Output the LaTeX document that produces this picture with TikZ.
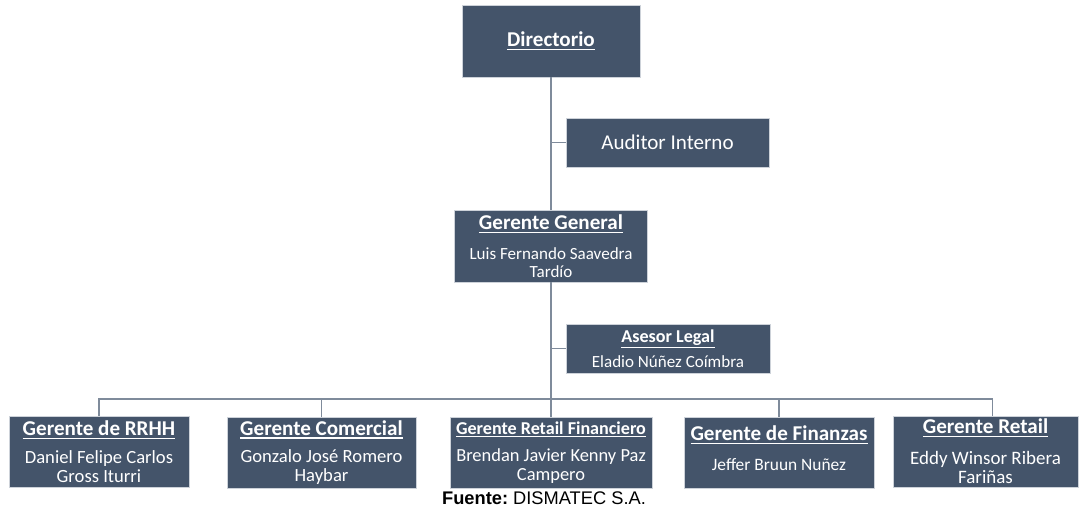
\documentclass[tikz,border=0pt]{standalone}
\usepackage{fontspec}
\setmainfont{Carlito}
\newfontfamily\arialfont{Liberation Sans}
\usepackage{xcolor}
\definecolor{cajafondo}{HTML}{44546A}
\definecolor{cajaborde}{HTML}{CDD2D9}
\definecolor{linea}{HTML}{7F8B9B}

\begin{document}
\begin{tikzpicture}[x=0.02cm,y=-0.02cm,
  caja/.style={draw=cajaborde,line width=0.5pt,fill=cajafondo,text=white,
    align=center,inner sep=0pt,font=\fontsize{9.7}{10.5}\selectfont},
  tam/.style 2 args={minimum width=#1*0.02cm,minimum height=#2*0.02cm},
  nom/.style={font=\fontsize{#1}{10.8}\selectfont},
  enlace/.style={draw=linea,line width=1pt}]
  \newcommand{\subr}[1]{\vtop{\hbox{#1}\kern1.3pt\hrule height 0.6pt}}
  \newcommand{\titulo}[2][12]{{\fontsize{#1}{14}\selectfont\bfseries\subr{#2}}}
  \useasboundingbox (0,0) rectangle (1084,508);
  \node[caja,tam={178}{72}] (dir) at (551,41) {\titulo{Directorio}};
  \node[caja,tam={203}{49},font=\fontsize{12}{14}\selectfont] (aud) at (667.5,142.5)
    {Auditor Interno};
  \node[caja,tam={193}{72}] (gg) at (551,246)
    {\titulo{Gerente General}\\[6.5pt]Luis Fernando Saavedra\\Tardío};
  \node[caja,tam={204}{49}] (ase) at (668,348.5)
    {\titulo[10.3]{Asesor Legal}\\[4pt]Eladio Núñez Coímbra};
  \node[caja,nom=10.6,tam={180}{71}] (rrhh) at (99,451.5)
    {\titulo{Gerente de RRHH}\\[5pt]Daniel Felipe Carlos\\Gross Iturri};
  \node[caja,nom=10.6,tam={189}{71}] (com) at (321.5,452.5)
    {\titulo{Gerente Comercial}\\[5pt]Gonzalo José Romero\\Haybar};
  \node[caja,nom=10.5,tam={202}{71}] (rfin) at (551,452.5)
    {\titulo[10.3]{Gerente Retail Financiero}\\[5pt]Brendan Javier Kenny Paz\\Campero};
  \node[caja,nom=9.9,tam={190}{71}] (fin) at (779,452.5)
    {\titulo{Gerente de Finanzas}\\[6pt]Jeffer Bruun Nuñez\\[-6pt]\mbox{}};
  \node[caja,nom=10.8,tam={185}{71}] (ret) at (985.5,451.5)
    {\titulo{Gerente Retail}\\[7pt]Eddy Winsor Ribera\\Fariñas};
  \node[font=\arialfont\fontsize{10.4}{12}\selectfont\frenchspacing,anchor=base,
    inner sep=0pt] (fuente) at (544,504) {\textbf{Fuente:} DISMATEC S.A.};
  \coordinate (bus) at (551,399);
  \draw[enlace] (dir) -- (gg);
  \draw[enlace] (gg) -- (rfin);
  \draw[enlace] (dir.south |- aud.west) -- (aud.west);
  \draw[enlace] (gg.south |- ase.west) -- (ase.west);
  \draw[enlace] (rrhh.north) |- (bus) -| ([xshift=0.14cm]ret.north);
  \draw[enlace] (com.north) -- (com.north |- bus);
  \draw[enlace] (fin.north) -- (fin.north |- bus);
\end{tikzpicture}
\end{document}
